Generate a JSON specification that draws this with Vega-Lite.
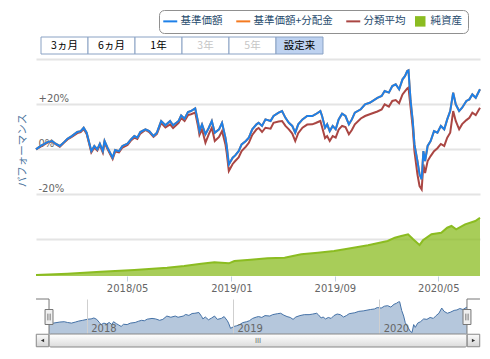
{
  "$schema": "https://vega.github.io/schema/vega-lite/v6.json",
  "padding": {"left": 17, "top": 9, "right": 0, "bottom": 0},
  "background": "white",
  "config": {"view": {"stroke": null}, "font": "DejaVu Sans"},
  "spacing": 0,
  "bounds": "flush",
  "resolve": {"scale": {"x": "independent", "y": "independent", "color": "shared"}, "legend": {"color": "shared"}},
  "datasets": {
    "buttons": [
      {"label": "3ヵ月", "state": "normal"},
      {"label": "6ヵ月", "state": "normal"},
      {"label": "1年", "state": "normal"},
      {"label": "3年", "state": "disabled"},
      {"label": "5年", "state": "disabled"},
      {"label": "設定来", "state": "selected"}
    ],
    "range": [{"from": "2017-09-29", "to": "2020-08-07"}],
    "perf": [
      {"date": "2017-09-29", "nav": 0.0, "dist": 0.0, "avg": 0.0},
      {"date": "2017-10-10", "nav": 1.5, "dist": 1.5, "avg": 1.2},
      {"date": "2017-10-26", "nav": 3.2, "dist": 3.2, "avg": 3.0},
      {"date": "2017-11-06", "nav": 3.7, "dist": 3.7, "avg": 3.5},
      {"date": "2017-11-14", "nav": 2.5, "dist": 2.5, "avg": 2.3},
      {"date": "2017-11-24", "nav": 1.5, "dist": 1.5, "avg": 1.2},
      {"date": "2017-12-04", "nav": 3.2, "dist": 3.2, "avg": 3.0},
      {"date": "2017-12-12", "nav": 4.7, "dist": 4.7, "avg": 4.4},
      {"date": "2017-12-22", "nav": 5.9, "dist": 5.9, "avg": 5.5},
      {"date": "2018-01-04", "nav": 7.7, "dist": 7.7, "avg": 7.2},
      {"date": "2018-01-12", "nav": 8.1, "dist": 8.1, "avg": 7.7},
      {"date": "2018-01-19", "nav": 9.6, "dist": 9.6, "avg": 9.0},
      {"date": "2018-01-26", "nav": 7.4, "dist": 7.4, "avg": 6.8},
      {"date": "2018-02-01", "nav": 2.9, "dist": 2.9, "avg": 2.4},
      {"date": "2018-02-06", "nav": -0.8, "dist": -0.8, "avg": -1.4},
      {"date": "2018-02-13", "nav": 1.5, "dist": 1.5, "avg": 0.8},
      {"date": "2018-02-20", "nav": 0.0, "dist": 0.0, "avg": -0.5},
      {"date": "2018-02-26", "nav": 2.5, "dist": 2.5, "avg": 1.9},
      {"date": "2018-03-05", "nav": -0.8, "dist": -0.8, "avg": -1.4},
      {"date": "2018-03-09", "nav": 3.7, "dist": 3.7, "avg": 3.0},
      {"date": "2018-03-16", "nav": 0.7, "dist": 0.7, "avg": 0.1},
      {"date": "2018-03-22", "nav": -1.5, "dist": -1.5, "avg": -2.1},
      {"date": "2018-03-28", "nav": -3.7, "dist": -3.7, "avg": -4.3},
      {"date": "2018-04-03", "nav": -0.3, "dist": -0.3, "avg": -1.0},
      {"date": "2018-04-12", "nav": -0.8, "dist": -0.8, "avg": -1.4},
      {"date": "2018-04-20", "nav": 1.5, "dist": 1.5, "avg": 0.8},
      {"date": "2018-05-02", "nav": 2.5, "dist": 2.5, "avg": 1.9},
      {"date": "2018-05-10", "nav": 4.4, "dist": 4.4, "avg": 3.9},
      {"date": "2018-05-18", "nav": 5.9, "dist": 5.9, "avg": 5.2},
      {"date": "2018-05-25", "nav": 5.2, "dist": 5.2, "avg": 4.6},
      {"date": "2018-06-01", "nav": 7.7, "dist": 7.7, "avg": 7.0},
      {"date": "2018-06-13", "nav": 8.9, "dist": 8.9, "avg": 8.6},
      {"date": "2018-06-22", "nav": 8.1, "dist": 8.1, "avg": 7.7},
      {"date": "2018-07-02", "nav": 5.9, "dist": 5.9, "avg": 5.6},
      {"date": "2018-07-10", "nav": 7.4, "dist": 7.4, "avg": 6.9},
      {"date": "2018-07-20", "nav": 12.6, "dist": 12.6, "avg": 11.8},
      {"date": "2018-07-30", "nav": 10.7, "dist": 10.7, "avg": 9.7},
      {"date": "2018-08-10", "nav": 12.6, "dist": 12.6, "avg": 11.1},
      {"date": "2018-08-17", "nav": 10.7, "dist": 10.7, "avg": 9.5},
      {"date": "2018-08-30", "nav": 12.6, "dist": 12.6, "avg": 11.8},
      {"date": "2018-09-05", "nav": 15.1, "dist": 15.1, "avg": 13.9},
      {"date": "2018-09-13", "nav": 13.6, "dist": 13.6, "avg": 12.6},
      {"date": "2018-09-21", "nav": 16.6, "dist": 16.6, "avg": 15.2},
      {"date": "2018-09-28", "nav": 17.0, "dist": 17.0, "avg": 15.6},
      {"date": "2018-10-08", "nav": 18.2, "dist": 18.2, "avg": 16.3},
      {"date": "2018-10-15", "nav": 11.8, "dist": 11.8, "avg": 9.9},
      {"date": "2018-10-18", "nav": 8.1, "dist": 8.1, "avg": 6.4},
      {"date": "2018-10-24", "nav": 11.1, "dist": 11.1, "avg": 8.9},
      {"date": "2018-11-01", "nav": 6.7, "dist": 6.7, "avg": 2.9},
      {"date": "2018-11-09", "nav": 9.6, "dist": 9.6, "avg": 6.8},
      {"date": "2018-11-16", "nav": 12.6, "dist": 12.6, "avg": 9.6},
      {"date": "2018-11-23", "nav": 7.4, "dist": 7.4, "avg": 3.7},
      {"date": "2018-12-03", "nav": 8.9, "dist": 8.9, "avg": 5.5},
      {"date": "2018-12-10", "nav": 11.8, "dist": 11.8, "avg": 8.1},
      {"date": "2018-12-18", "nav": 5.2, "dist": 5.2, "avg": 2.2},
      {"date": "2018-12-21", "nav": 1.5, "dist": 1.5, "avg": -1.6},
      {"date": "2018-12-26", "nav": -6.7, "dist": -6.7, "avg": -9.6},
      {"date": "2019-01-04", "nav": -3.7, "dist": -3.7, "avg": -6.5},
      {"date": "2019-01-10", "nav": -2.7, "dist": -2.7, "avg": -5.2},
      {"date": "2019-01-18", "nav": -0.8, "dist": -0.8, "avg": -3.6},
      {"date": "2019-01-25", "nav": 2.2, "dist": 2.2, "avg": -0.8},
      {"date": "2019-02-04", "nav": 3.7, "dist": 3.7, "avg": 1.2},
      {"date": "2019-02-11", "nav": 5.2, "dist": 5.2, "avg": 2.9},
      {"date": "2019-02-19", "nav": 8.9, "dist": 8.9, "avg": 6.4},
      {"date": "2019-03-01", "nav": 11.1, "dist": 11.1, "avg": 8.9},
      {"date": "2019-03-06", "nav": 11.8, "dist": 11.8, "avg": 9.5},
      {"date": "2019-03-14", "nav": 10.4, "dist": 10.4, "avg": 7.7},
      {"date": "2019-03-22", "nav": 13.3, "dist": 13.3, "avg": 9.6},
      {"date": "2019-04-03", "nav": 12.6, "dist": 12.6, "avg": 9.2},
      {"date": "2019-04-10", "nav": 14.8, "dist": 14.8, "avg": 11.8},
      {"date": "2019-04-22", "nav": 16.3, "dist": 16.3, "avg": 12.4},
      {"date": "2019-04-30", "nav": 17.0, "dist": 17.0, "avg": 12.6},
      {"date": "2019-05-08", "nav": 14.0, "dist": 14.0, "avg": 10.4},
      {"date": "2019-05-16", "nav": 11.8, "dist": 11.8, "avg": 8.9},
      {"date": "2019-05-24", "nav": 10.4, "dist": 10.4, "avg": 7.0},
      {"date": "2019-05-31", "nav": 7.4, "dist": 7.4, "avg": 3.7},
      {"date": "2019-06-07", "nav": 11.1, "dist": 11.1, "avg": 7.2},
      {"date": "2019-06-17", "nav": 13.3, "dist": 13.3, "avg": 9.6},
      {"date": "2019-06-28", "nav": 14.8, "dist": 14.8, "avg": 11.0},
      {"date": "2019-07-10", "nav": 14.8, "dist": 14.8, "avg": 11.1},
      {"date": "2019-07-18", "nav": 15.6, "dist": 15.6, "avg": 11.7},
      {"date": "2019-07-29", "nav": 17.0, "dist": 17.0, "avg": 12.6},
      {"date": "2019-08-02", "nav": 14.8, "dist": 14.8, "avg": 9.9},
      {"date": "2019-08-09", "nav": 9.6, "dist": 9.6, "avg": 5.0},
      {"date": "2019-08-14", "nav": 11.1, "dist": 11.1, "avg": 5.9},
      {"date": "2019-08-20", "nav": 8.1, "dist": 8.1, "avg": 3.7},
      {"date": "2019-08-27", "nav": 10.4, "dist": 10.4, "avg": 5.9},
      {"date": "2019-09-03", "nav": 8.9, "dist": 8.9, "avg": 5.2},
      {"date": "2019-09-10", "nav": 13.3, "dist": 13.3, "avg": 8.8},
      {"date": "2019-09-18", "nav": 15.8, "dist": 15.8, "avg": 10.4},
      {"date": "2019-09-26", "nav": 14.8, "dist": 14.8, "avg": 9.9},
      {"date": "2019-10-04", "nav": 11.1, "dist": 11.1, "avg": 6.7},
      {"date": "2019-10-11", "nav": 13.3, "dist": 13.3, "avg": 8.6},
      {"date": "2019-10-18", "nav": 16.3, "dist": 16.3, "avg": 11.1},
      {"date": "2019-11-01", "nav": 17.8, "dist": 17.8, "avg": 13.7},
      {"date": "2019-11-11", "nav": 20.0, "dist": 20.0, "avg": 14.8},
      {"date": "2019-11-22", "nav": 20.7, "dist": 20.7, "avg": 15.6},
      {"date": "2019-12-10", "nav": 22.9, "dist": 22.9, "avg": 16.8},
      {"date": "2019-12-20", "nav": 23.7, "dist": 23.7, "avg": 17.7},
      {"date": "2019-12-27", "nav": 25.9, "dist": 25.9, "avg": 20.0},
      {"date": "2020-01-06", "nav": 25.2, "dist": 25.2, "avg": 19.0},
      {"date": "2020-01-14", "nav": 28.1, "dist": 28.1, "avg": 21.5},
      {"date": "2020-01-22", "nav": 28.9, "dist": 28.9, "avg": 21.9},
      {"date": "2020-01-30", "nav": 26.7, "dist": 26.7, "avg": 20.5},
      {"date": "2020-02-07", "nav": 31.1, "dist": 31.1, "avg": 24.4},
      {"date": "2020-02-13", "nav": 32.6, "dist": 32.6, "avg": 25.9},
      {"date": "2020-02-18", "nav": 34.8, "dist": 34.8, "avg": 27.0},
      {"date": "2020-02-21", "nav": 35.1, "dist": 35.1, "avg": 27.4},
      {"date": "2020-02-26", "nav": 21.5, "dist": 21.5, "avg": 18.5},
      {"date": "2020-03-02", "nav": 12.6, "dist": 12.6, "avg": 9.6},
      {"date": "2020-03-06", "nav": 2.2, "dist": 2.2, "avg": -0.8},
      {"date": "2020-03-13", "nav": -5.2, "dist": -5.2, "avg": -11.1},
      {"date": "2020-03-18", "nav": -11.1, "dist": -11.1, "avg": -16.3},
      {"date": "2020-03-23", "nav": -13.3, "dist": -13.3, "avg": -17.8},
      {"date": "2020-03-27", "nav": -0.8, "dist": -0.8, "avg": -6.7},
      {"date": "2020-03-31", "nav": -5.2, "dist": -5.2, "avg": -10.5},
      {"date": "2020-04-06", "nav": 1.5, "dist": 1.5, "avg": -5.2},
      {"date": "2020-04-13", "nav": 3.7, "dist": 3.7, "avg": -3.0},
      {"date": "2020-04-21", "nav": 8.1, "dist": 8.1, "avg": -0.8},
      {"date": "2020-04-29", "nav": 7.4, "dist": 7.4, "avg": 0.5},
      {"date": "2020-05-07", "nav": 10.4, "dist": 10.4, "avg": 2.4},
      {"date": "2020-05-15", "nav": 8.9, "dist": 8.9, "avg": 1.5},
      {"date": "2020-05-22", "nav": 13.3, "dist": 13.3, "avg": 5.2},
      {"date": "2020-05-29", "nav": 17.0, "dist": 17.0, "avg": 7.4},
      {"date": "2020-06-05", "nav": 25.2, "dist": 25.2, "avg": 17.0},
      {"date": "2020-06-11", "nav": 20.0, "dist": 20.0, "avg": 12.6},
      {"date": "2020-06-19", "nav": 17.0, "dist": 17.0, "avg": 8.9},
      {"date": "2020-06-26", "nav": 18.5, "dist": 18.5, "avg": 11.2},
      {"date": "2020-07-06", "nav": 21.5, "dist": 21.5, "avg": 13.0},
      {"date": "2020-07-13", "nav": 22.2, "dist": 22.2, "avg": 14.0},
      {"date": "2020-07-20", "nav": 24.4, "dist": 24.4, "avg": 16.3},
      {"date": "2020-07-28", "nav": 22.9, "dist": 22.9, "avg": 15.2},
      {"date": "2020-08-07", "nav": 26.7, "dist": 26.7, "avg": 18.5}
    ],
    "assets": [
      {"date": "2017-09-29", "assets": 10},
      {"date": "2017-12-12", "assets": 23},
      {"date": "2018-02-28", "assets": 43},
      {"date": "2018-05-18", "assets": 60},
      {"date": "2018-08-03", "assets": 83},
      {"date": "2018-09-12", "assets": 100},
      {"date": "2018-10-22", "assets": 123},
      {"date": "2018-11-22", "assets": 137},
      {"date": "2018-12-26", "assets": 127},
      {"date": "2019-01-08", "assets": 150},
      {"date": "2019-02-15", "assets": 163},
      {"date": "2019-03-27", "assets": 177},
      {"date": "2019-05-06", "assets": 183},
      {"date": "2019-06-14", "assets": 217},
      {"date": "2019-07-23", "assets": 233},
      {"date": "2019-08-30", "assets": 250},
      {"date": "2019-09-24", "assets": 267},
      {"date": "2019-11-18", "assets": 307},
      {"date": "2020-01-03", "assets": 350},
      {"date": "2020-01-20", "assets": 383},
      {"date": "2020-02-04", "assets": 400},
      {"date": "2020-02-20", "assets": 417},
      {"date": "2020-03-03", "assets": 367},
      {"date": "2020-03-18", "assets": 310},
      {"date": "2020-03-26", "assets": 357},
      {"date": "2020-04-15", "assets": 417},
      {"date": "2020-05-08", "assets": 433},
      {"date": "2020-05-22", "assets": 483},
      {"date": "2020-06-01", "assets": 500},
      {"date": "2020-06-12", "assets": 467},
      {"date": "2020-07-03", "assets": 517},
      {"date": "2020-07-27", "assets": 550},
      {"date": "2020-08-07", "assets": 583}
    ]
  },
  "vconcat": [
    {
      "width": 292,
      "height": 17,
      "data": {"name": "buttons"},
      "layer": [
        {
          "mark": {"type": "rect", "stroke": "#8aa2c4", "strokeWidth": 1},
          "encoding": {
            "x": {"field": "label", "type": "nominal", "sort": null, "axis": null, "scale": {"paddingInner": 0, "paddingOuter": 0.1064}},
            "y": {"datum": 1, "type": "quantitative", "scale": {"domain": [0, 1], "nice": false, "zero": false}, "axis": null},
            "y2": {"datum": 0},
            "fill": {"condition": {"test": "datum.state === 'selected'", "value": "#bed2f0"}, "value": "#ffffff"}
          }
        },
        {
          "mark": {"type": "text", "font": "Noto Sans CJK JP", "fontSize": 10.5, "baseline": "middle", "align": "center"},
          "encoding": {
            "x": {"field": "label", "type": "nominal", "sort": null, "axis": null},
            "y": {"datum": 0.5, "type": "quantitative"},
            "text": {"field": "label"},
            "fill": {"condition": {"test": "datum.state === 'disabled'", "value": "#c6c6c6"}, "value": "#000000"}
          }
        }
      ]
    },
    {
      "width": 444,
      "height": 245,
      "resolve": {"scale": {"y": "independent"}},
      "layer": [
        {
          "data": {"name": "assets"},
          "mark": {"type": "area", "fillOpacity": 0.75, "line": {"strokeWidth": 2}},
          "encoding": {
            "x": {"field": "date", "type": "temporal", "title": null,
              "scale": {"type": "utc", "domain": [{"year": 2017, "month": 9, "date": 29, "utc": true}, {"year": 2020, "month": 8, "date": 7, "utc": true}]},
              "axis": {
                "values": [{"year": 2018, "month": 5, "date": 1, "utc": true}, {"year": 2019, "month": 1, "date": 1, "utc": true}, {"year": 2019, "month": 9, "date": 1, "utc": true}, {"year": 2020, "month": 5, "date": 1, "utc": true}],
                "labelExpr": "utcFormat(datum.value, '%Y/%m')",
                "labelColor": "#666666", "labelFont": "DejaVu Sans", "labelFontSize": 10,
                "tickColor": "#c0d0e0", "tickSize": 5, "domain": false, "grid": false,
                "offset": -23, "labelPadding": 2
              }
            },
            "y": {"field": "assets", "type": "quantitative", "scale": {"domain": [-230, 2220], "nice": false, "zero": false}, "axis": null},
            "y2": {"datum": 0},
            "color": {
              "datum": "純資産",
              "scale": {"domain": ["基準価額", "基準価額+分配金", "分類平均", "純資産"], "range": ["#1e80e8", "#f47a20", "#aa4643", "#8bbc21"]},
              "legend": {
                "orient": "none", "legendX": 123, "legendY": -27,
                "direction": "horizontal", "columns": 4, "title": null,
                "strokeColor": "#909090", "cornerRadius": 5, "padding": 6, "fillColor": "#ffffff",
                "labelFont": "Noto Sans CJK JP", "labelFontSize": 10.5, "labelColor": "#274b6d",
                "symbolSize": 196, "symbolStrokeWidth": 2, "symbolType": "stroke",
                "labelOffset": 5, "columnPadding": 9,
                "encode": {
                  "symbols": {
                    "update": {
                      "shape": {"signal": "datum.value === '純資産' ? 'square' : 'stroke'"},
                      "size": {"signal": "datum.value === '純資産' ? 110 : 196"},
                      "fill": {"signal": "datum.value === '純資産' ? '#8bbc21' : 'transparent'"},
                      "stroke": {"signal": "datum.value === '純資産' ? '#8bbc21' : datum.value === '基準価額' ? '#1e80e8' : datum.value === '分類平均' ? '#aa4643' : '#f47a20'"},
                      "strokeWidth": {"signal": "datum.value === '純資産' ? 0 : 2"},
                      "opacity": {"value": 1},
                      "fillOpacity": {"value": 1}
                    }
                  }
                }
              }
            }
          }
        },
        {
          "data": {"name": "perf"},
          "encoding": {
            "x": {"field": "date", "type": "temporal", "title": null,
              "scale": {"type": "utc", "domain": [{"year": 2017, "month": 9, "date": 29, "utc": true}, {"year": 2020, "month": 8, "date": 7, "utc": true}]}}
          },
          "layer": [
            {
              "mark": {"type": "line", "strokeWidth": 2},
              "encoding": {
                "y": {"field": "avg", "type": "quantitative", "title": "パフォーマンス",
                  "scale": {"domain": [-66.5, 42.36], "nice": false, "zero": false},
                  "axis": {
                    "values": [-40, -20, 0, 20, 40],
                    "labelExpr": "datum.value === 20 ? '+20%' : datum.value === 0 ? '0%' : datum.value === -20 ? '-20%' : ''",
                    "grid": true, "gridColor": "#e4e4e4", "gridWidth": 2,
                    "domain": false, "ticks": false, "tickSize": 0,
                    "labelAlign": "left", "labelBaseline": "alphabetic", "labelPadding": -2, "labelOffset": -3,
                    "labelColor": "#666666", "labelFont": "DejaVu Sans", "labelFontSize": 10,
                    "titleFont": "Noto Sans CJK JP", "titleFontSize": 10.5, "titleFontWeight": "normal", "titleColor": "#4d759e",
                    "titleAngle": -90, "titleX": -14, "titleY": 96, "titleAlign": "center", "titleBaseline": "middle"
                  }
                },
                "color": {"datum": "分類平均"}
              }
            },
            {
              "mark": {"type": "line", "strokeWidth": 2},
              "encoding": {
                "y": {"field": "dist", "type": "quantitative", "title": "パフォーマンス"},
                "color": {"datum": "基準価額+分配金"}
              }
            },
            {
              "mark": {"type": "line", "strokeWidth": 2},
              "encoding": {
                "y": {"field": "nav", "type": "quantitative", "title": "パフォーマンス"},
                "color": {"datum": "基準価額"}
              }
            }
          ]
        }
      ]
    },
    {
      "width": 444,
      "height": 35,
      "layer": [
        {
          "data": {"name": "perf"},
          "mark": {"type": "area", "color": "#4572a7", "fillOpacity": 0.4, "line": {"color": "#4572a7", "strokeWidth": 1}},
          "encoding": {
            "x": {"field": "date", "type": "temporal", "title": null,
              "scale": {"type": "utc", "domain": [{"year": 2017, "month": 8, "date": 27, "hours": 12, "utc": true}, {"year": 2020, "month": 9, "date": 8, "hours": 12, "utc": true}]},
              "axis": {
                "values": [{"year": 2018, "month": 1, "date": 1, "utc": true}, {"year": 2019, "month": 1, "date": 1, "utc": true}, {"year": 2020, "month": 1, "date": 1, "utc": true}],
                "labelExpr": "utcFormat(datum.value, '%Y')",
                "grid": true, "gridColor": "#cfcfcf", "gridWidth": 1,
                "domain": false, "ticks": false, "tickSize": 0,
                "labelAlign": "left", "labelBaseline": "bottom", "labelPadding": -1, "labelOffset": 4,
                "labelColor": "#666666", "labelFont": "DejaVu Sans", "labelFontSize": 10, "zindex": 1
              }
            },
            "y": {"field": "nav", "type": "quantitative", "scale": {"domain": [-15.6, 39.4], "nice": false, "zero": false}, "axis": null},
            "y2": {"datum": -15.6}
          }
        },
        {
          "data": {"name": "range"},
          "mark": {"type": "rule", "color": "#777777", "strokeWidth": 1},
          "encoding": {"x": {"field": "from", "type": "temporal"}, "y": {"datum": 39.4}, "y2": {"datum": -15.6}}
        },
        {
          "data": {"name": "range"},
          "mark": {"type": "rule", "color": "#777777", "strokeWidth": 1},
          "encoding": {"x": {"field": "to", "type": "temporal"}, "y": {"datum": 39.4}, "y2": {"datum": -15.6}}
        },
        {
          "data": {"name": "range"},
          "mark": {"type": "point", "shape": "M-1,0H0", "size": 676, "filled": false, "stroke": "#777777", "strokeWidth": 1, "opacity": 1},
          "encoding": {"x": {"field": "from", "type": "temporal"}, "y": {"datum": 39.4}}
        },
        {
          "data": {"name": "range"},
          "mark": {"type": "point", "shape": "M0,0H1", "size": 676, "filled": false, "stroke": "#777777", "strokeWidth": 1, "opacity": 1},
          "encoding": {"x": {"field": "to", "type": "temporal"}, "y": {"datum": 39.4}}
        },
        {
          "data": {"name": "range"},
          "mark": {"type": "point", "shape": "M-0.53,-1H0.53V1H-0.53Z M-0.15,-0.45V0.45 M0.15,-0.45V0.45", "size": 225, "filled": true, "fill": "#f0f0f0", "stroke": "#777777", "strokeWidth": 1, "opacity": 1},
          "encoding": {"x": {"field": "from", "type": "temporal"}, "y": {"datum": 11.1}}
        },
        {
          "data": {"name": "range"},
          "mark": {"type": "point", "shape": "M-0.53,-1H0.53V1H-0.53Z M-0.15,-0.45V0.45 M0.15,-0.45V0.45", "size": 225, "filled": true, "fill": "#f0f0f0", "stroke": "#777777", "strokeWidth": 1, "opacity": 1},
          "encoding": {"x": {"field": "to", "type": "temporal"}, "y": {"datum": 11.1}}
        }
      ]
    },
    {
      "width": 444,
      "height": 13,
      "data": {"name": "range"},
      "layer": [
        {
          "mark": {"type": "rect", "stroke": "#888888", "strokeWidth": 1, "cornerRadius": 2,
            "fill": {"gradient": "linear", "x1": 0, "y1": 0, "x2": 0, "y2": 1, "stops": [{"offset": 0, "color": "#ffffff"}, {"offset": 1, "color": "#dcdcdc"}]}},
          "encoding": {
            "x": {"field": "from", "type": "temporal",
              "scale": {"type": "utc", "domain": [{"year": 2017, "month": 8, "date": 27, "hours": 12, "utc": true}, {"year": 2020, "month": 9, "date": 8, "hours": 12, "utc": true}]}, "axis": null},
            "x2": {"field": "to"},
            "y": {"datum": 1, "type": "quantitative", "scale": {"domain": [0, 1], "nice": false, "zero": false}, "axis": null},
            "y2": {"datum": 0}
          }
        },
        {
          "mark": {"type": "point", "shape": "square", "size": 156, "filled": true, "stroke": "#888888", "strokeWidth": 1, "opacity": 1,
            "fill": {"gradient": "linear", "x1": 0, "y1": 0, "x2": 0, "y2": 1, "stops": [{"offset": 0, "color": "#fbfbfb"}, {"offset": 1, "color": "#d4d4d4"}]}},
          "encoding": {
            "x": {"datum": {"year": 2017, "month": 9, "date": 12, "hours": 18, "utc": true}, "type": "temporal"},
            "y": {"datum": 0.5, "type": "quantitative"}
          }
        },
        {
          "mark": {"type": "point", "shape": "square", "size": 156, "filled": true, "stroke": "#888888", "strokeWidth": 1, "opacity": 1,
            "fill": {"gradient": "linear", "x1": 0, "y1": 0, "x2": 0, "y2": 1, "stops": [{"offset": 0, "color": "#fbfbfb"}, {"offset": 1, "color": "#d4d4d4"}]}},
          "encoding": {
            "x": {"datum": {"year": 2020, "month": 8, "date": 23, "hours": 6, "utc": true}, "type": "temporal"},
            "y": {"datum": 0.5, "type": "quantitative"}
          }
        },
        {
          "mark": {"type": "text", "text": "III", "font": "DejaVu Sans", "fontSize": 7, "color": "#666666", "baseline": "middle", "align": "center"},
          "encoding": {
            "x": {"datum": {"year": 2019, "month": 3, "date": 4, "hours": 12, "utc": true}, "type": "temporal"},
            "y": {"datum": 0.5, "type": "quantitative"}
          }
        },
        {
          "mark": {"type": "point", "shape": "triangle-left", "size": 14, "filled": true, "fill": "#333333", "opacity": 1},
          "encoding": {
            "x": {"datum": {"year": 2017, "month": 9, "date": 12, "hours": 18, "utc": true}, "type": "temporal"},
            "y": {"datum": 0.5, "type": "quantitative"}
          }
        },
        {
          "mark": {"type": "point", "shape": "triangle-right", "size": 14, "filled": true, "fill": "#333333", "opacity": 1},
          "encoding": {
            "x": {"datum": {"year": 2020, "month": 8, "date": 23, "hours": 6, "utc": true}, "type": "temporal"},
            "y": {"datum": 0.5, "type": "quantitative"}
          }
        }
      ]
    }
  ]
}
